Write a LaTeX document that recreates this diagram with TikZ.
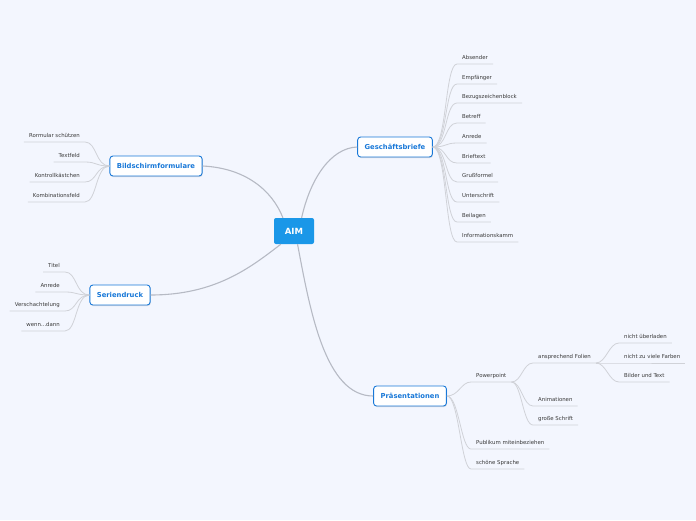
\documentclass[tikz,border=0pt]{standalone}
\usepackage{fontspec}
\setmainfont{DejaVu Sans}
\usepackage{tikz}
\usetikzlibrary{shadows}
\definecolor{BgColor}  {RGB}{243,246,254}
\definecolor{RootColor}{RGB}{26,151,232}
\definecolor{TopColor} {RGB}{24,120,216}
\definecolor{LeafText} {RGB}{58,58,58}
\definecolor{MainLine} {RGB}{182,186,196}
\definecolor{TwigLine} {RGB}{208,210,216}
\tikzset{
  root/.style={fill=RootColor,text=white,font=\fontsize{8.5}{10}\selectfont\bfseries,
               rounded corners=2pt,minimum width=40pt,minimum height=26pt},
  topic/.style={draw=TopColor,line width=0.9pt,fill=white,text=TopColor,
               font=\fontsize{6.8}{8}\selectfont\bfseries,rounded corners=3pt,
               inner xsep=7pt,minimum height=20pt,
               drop shadow={shadow xshift=0.6pt,shadow yshift=-1pt,opacity=0.25}},
  leaf/.style={text=LeafText,font=\fontsize{5.4}{6}\selectfont,inner xsep=5pt,
               inner ysep=3pt,text height=4pt,text depth=1pt},
  leafR/.style={leaf,anchor=south west},
  leafL/.style={leaf,anchor=south east},
  branch/.style={draw=MainLine,line width=1.1pt},
  twig/.style={draw=TwigLine,line width=0.8pt}
}
\begin{document}
\begin{tikzpicture}[x=1pt,y=-1pt]
\fill[BgColor] (0,0) rectangle (696,520);
\useasboundingbox (0,0) rectangle (696,520);
\node[root] (aim) at (294,231) {AIM};
\node[topic] (gb) at (395,147) {Geschäftsbriefe};
\node[topic] (bf) at (156,166) {Bildschirmformulare};
\node[topic] (sd) at (120,295) {Seriendruck};
\node[topic] (pr) at (410,396) {Präsentationen};
% Geschaeftsbriefe
\node[leafR] (g1) at (457,64) {Absender};
\node[leafR] (g2) at (457,84) {Empfänger};
\node[leafR] (g3) at (457,103) {Bezugszeichenblock};
\node[leafR] (g4) at (457,123) {Betreff};
\node[leafR] (g5) at (457,143) {Anrede};
\node[leafR] (g6) at (457,163) {Brieftext};
\node[leafR] (g7) at (457,182) {Grußformel};
\node[leafR] (g8) at (457,202) {Unterschrift};
\node[leafR] (g9) at (457,222) {Beilagen};
\node[leafR] (g10) at (457,242) {Informationskamm};
% Bildschirmformulare
\node[leafL] (b1) at (85,142) {Rormular schützen};
\node[leafL] (b2) at (85,162) {Textfeld};
\node[leafL] (b3) at (85,182) {Kontrollkästchen};
\node[leafL] (b4) at (85,202) {Kombinationsfeld};
% Serienbrief
\node[leafL] (s1) at (65,272) {Titel};
\node[leafL] (s2) at (65,292) {Anrede};
\node[leafL] (s3) at (65,311) {Verschachtelung};
\node[leafL] (s4) at (65,331) {wenn...dann};
% Praesentationen
\node[leafR] (p1) at (471,382) {Powerpoint};
\node[leafR] (p2) at (471,449) {Publikum miteinbeziehen};
\node[leafR] (p3) at (471,469) {schöne Sprache};
\node[leafR] (pp1) at (533,363) {ansprechend Folien};
\node[leafR] (pp2) at (533,406) {Animationen};
\node[leafR] (pp3) at (533,425) {große Schrift};
\node[leafR] (af1) at (619,343) {nicht überladen};
\node[leafR] (af2) at (619,363) {nicht zu viele Farben};
\node[leafR] (af3) at (619,382) {Bilder und Text};

\draw[branch] (aim.60) .. controls (310,180) and (330,148) .. (gb.west);
\draw[branch] (aim.130) .. controls (272,190) and (245,168) .. (bf.east);
\draw[branch] (aim.-135) .. controls (250,268) and (215,295) .. (sd.east);
\draw[branch] (aim.-75) .. controls (310,310) and (325,396) .. (pr.west);

\foreach \n in {g1,g2,g3,g4,g5,g6,g7,g8,g9,g10}
  \draw[twig] (gb.east) .. controls +(14,0) and +(-12,0) .. (\n.south west) -- (\n.south east);
\foreach \n in {b1,b2,b3,b4}
  \draw[twig] (bf.west) .. controls +(-14,0) and +(12,0) .. (\n.south east) -- (\n.south west);
\foreach \n in {s1,s2,s3,s4}
  \draw[twig] (sd.west) .. controls +(-14,0) and +(12,0) .. (\n.south east) -- (\n.south west);
\foreach \n in {p1,p2,p3}
  \draw[twig] (pr.east) .. controls +(12,0) and +(-10,0) .. (\n.south west) -- (\n.south east);
\foreach \n in {pp1,pp2,pp3}
  \draw[twig] (p1.south east) .. controls +(10,0) and +(-10,0) .. (\n.south west) -- (\n.south east);
\foreach \n in {af1,af2,af3}
  \draw[twig] (pp1.south east) .. controls +(10,0) and +(-10,0) .. (\n.south west) -- (\n.south east);
\end{tikzpicture}
\end{document}
